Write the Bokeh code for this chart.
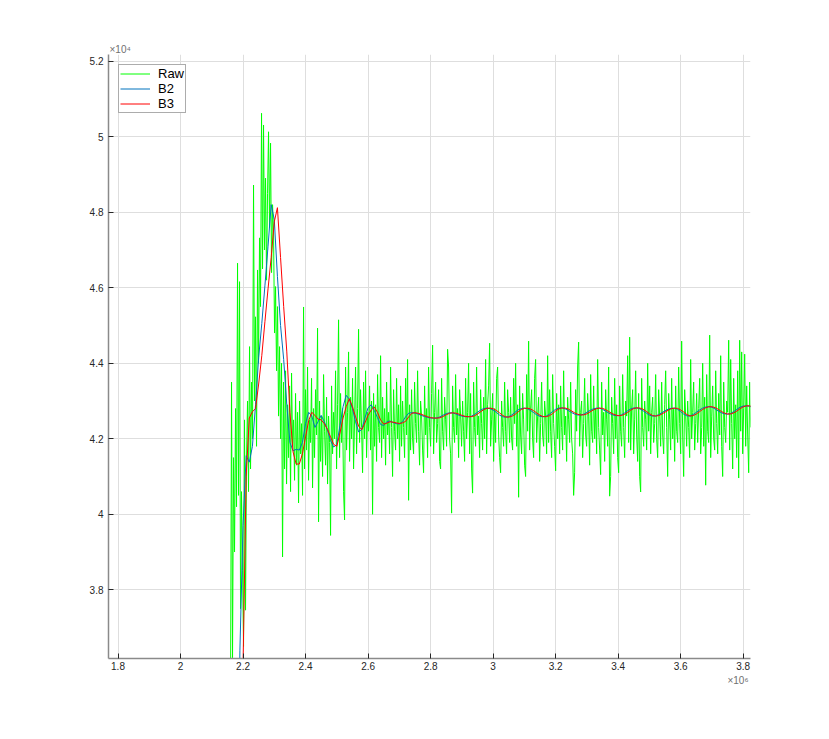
import numpy as np
from bokeh.plotting import figure
from bokeh.models import Range1d, FixedTicker, Legend, LegendItem, Title
from bokeh.embed import file_html
from bokeh.resources import INLINE

# ---------------- data ----------------
raw_start = 2.16e6
raw_step = 3200
raw_vals = [
    35000, 43500, 36200, 41500, 39000, 42800, 40200, 46650, 40500, 46160,
    37500, 40600, 38500, 36500, 42500, 37460, 41500, 43000, 40600, 44440,
    41200, 43500, 42000, 48720, 43000, 45230, 41800, 46470, 44000, 47320,
    45500, 50620, 46500, 50310, 47000, 48900, 46200, 48500, 50130, 47600,
    49830, 46400, 48200, 47450, 44800, 46030, 43800, 45500, 42600, 44440,
    42000, 44000, 38870, 43500, 41200, 43800, 40800, 42900, 41500, 43400,
    40600, 43740, 41800, 42500, 40900, 43200, 41300, 42700, 40300, 43000,
    41600, 42400, 40500, 45490, 41200, 43300, 41700, 43900, 40900, 42500,
    41900, 43600, 40700, 42800, 41500, 43300, 42100, 44930, 39800, 43000,
    41400, 42600, 41000, 43700, 42200, 41300, 43100, 40800, 42600, 41900,
    39440, 43400, 41600, 42700, 42000, 43800, 41200, 42900, 45150, 41500,
    43200, 41900, 42800, 40600, 39850, 43900, 41700, 42700, 44300, 41400,
    43100, 42000, 43600, 41200, 42500, 43900, 41600, 42800, 44900, 41900,
    43300, 42300, 41100, 43500, 42000, 43800, 41500, 42700, 42200, 43400,
    41700, 43000, 40000, 43200, 41800, 42900, 41400, 43700, 42300, 41900,
    44200, 41500, 43100, 42000, 42800, 41300, 43500, 42100, 42700, 41600,
    43900, 42300, 41000, 43300, 42200, 41700, 43600, 42000, 42900, 41400,
    43400,
    41800, 43000, 42300, 41500, 43600, 42100, 44100, 40370, 42900, 41700,
    43300, 42000, 41600, 43500, 42400, 41900, 43800, 42200, 41300, 43000,
    42600, 41700, 41100, 43400, 42100, 42800, 41500, 43900, 42300, 41800,
    43200, 44480, 41600, 42700, 43500, 41900, 42400, 43300, 41400, 41200,
    43600, 42200, 41700, 43100, 42500, 41800, 44370, 43900, 42000, 41600,
    40030, 43400, 42300, 41900, 43700, 42100, 42800, 41500, 43300, 42600,
    41800, 43000, 42200, 41400, 43600, 42000, 42700, 44000, 41600, 43200,
    41200, 40560, 43500, 42300, 41800, 43900, 42100, 42600, 41500, 43300,
    42400, 41700, 43100, 42000, 44100, 41600, 42900, 43400, 44530, 41800,
    42500, 43200, 41400, 42800, 41900, 43600, 43900, 42100, 41500, 41100,
    43000, 42300, 41800, 43500, 42200, 41600, 43300, 42700, 41900, 43100,
    42000, 41700, 43600, 42400, 44000, 41800, 42900, 40450, 43400, 42100,
    41600, 43200, 42500, 41300, 41000, 43700, 42200, 44585, 41700, 42800,
    43300, 42000, 41500, 43600, 44100, 41900, 42600, 43100, 41400, 42400,
    43500, 42100, 41800, 43000, 42600, 41600, 44200, 41900, 43300, 42200,
    41500, 43700, 42400, 41800, 41150, 43200, 42000, 42900, 41600, 43400,
    42300, 41700, 43800, 42100, 42600, 41400, 43100, 42500, 41900, 43500,
    42000, 41600, 40500, 41100, 43300, 42200, 43900, 44560, 41800, 42700,
    43000, 41500, 42400, 43600, 42100, 41800, 43200, 42600, 41300, 43700,
    42200, 41900, 43400, 42000, 42800, 41600, 44100, 42300, 41700, 41050,
    43500, 42100, 42700, 41400, 43300, 42500, 41800, 43900, 40480, 41000,
    43100, 42400, 41600, 43600, 42000, 42900, 41500, 41100, 43400, 42200,
    41800, 43700, 42300, 41500, 43000, 42600, 44200, 41900, 44690, 41700,
    42800, 43300, 41600, 42500, 43800, 42100, 41400, 43200, 41000, 40590,
    43600, 42300, 41800, 43000, 42500, 41700, 44000, 42200, 43400, 41600,
    42700, 43100, 41900, 42400, 43700, 42000, 41500, 43300, 42600, 41800,
    43500, 42100, 41600, 42900, 43800, 42300, 41000, 43200, 42500, 41700,
    43600, 42000, 42800, 41400, 43400, 42200, 41900, 43900, 42400, 41600,
    44585, 42100, 41000, 43300, 42600, 41800, 43000, 42300, 41500, 44100,
    42000, 42700, 43500, 41700, 42400, 43200, 41900, 42800, 43600, 41600,
    42300, 44000, 41800, 43100, 40770, 43700, 42200, 41900, 44745, 41500,
    42600, 43400, 42000, 41700, 43800, 42400, 41600, 43200, 42100, 44200,
    41800, 41000, 43500, 42300, 41900, 43000, 42700, 44610, 41700, 44100,
    42400, 41200, 43600, 42000, 42900, 41500, 43800, 40960, 44610, 42200,
    44300, 41600, 42800, 44240, 41800, 43400, 42100, 41100, 43500, 42300,
]

flt_start = 2.18e6
flt_step = 10000
b2_vals = [
    30000, 36400, 39700, 41550, 41380, 41800, 42900, 44150, 45050, 46050,
    47100, 48200, 47800, 46300, 45000, 44100, 42900, 41900, 41680, 41720,
    41700, 41900, 42400, 42700, 42600, 42300, 42450, 42620, 42450, 42230,
    41950, 41780, 41850, 42350, 42850, 43150, 43050, 42800, 42450, 42180,
    42250, 42550, 42820, 42900, 42750, 42560, 42380, 42350, 42450, 42470,
    42430, 42400, 42390, 42450, 42580, 42680, 42690, 42680, 42655, 42620,
    42590, 42565, 42550, 42547, 42550, 42580, 42625, 42665, 42687, 42685,
    42660, 42625, 42600, 42585, 42582, 42595, 42640, 42700, 42760, 42800,
    42812, 42800, 42760, 42700, 42630, 42585, 42570, 42585, 42630, 42700,
    42765, 42800, 42812, 42795, 42750, 42690, 42630, 42592, 42582, 42600,
    42650, 42720, 42780, 42812, 42818, 42795, 42750, 42700, 42655, 42630,
    42628, 42650, 42700, 42750, 42790, 42810, 42810, 42780, 42730, 42680,
    42640, 42615, 42610, 42630, 42680, 42740, 42790, 42815, 42818, 42790,
    42740, 42680, 42625, 42600, 42605, 42640, 42690, 42740, 42785, 42808,
    42810, 42780, 42720, 42650, 42605, 42602, 42640, 42700, 42760, 42810,
    42840, 42850, 42835, 42790, 42735, 42690, 42660, 42653, 42670, 42720,
    42780, 42835, 42865, 42873, 42860, 42830,
]
b3_vals = [
    30000, 32500, 36000, 41000, 42550, 42714, 42800, 43450, 44200, 45100,
    45970, 46800, 47750, 48120, 46800, 45500, 44300, 42700, 41650, 41330,
    41330, 41600, 42050, 42480, 42700, 42620, 42520, 42500, 42400, 42250,
    42050, 41850, 41800, 42150, 42550, 42850, 43060, 42850, 42580, 42330,
    42240, 42420, 42620, 42760, 42840, 42700, 42500, 42390, 42410, 42450,
    42440, 42420, 42405, 42420, 42460, 42580, 42675, 42690, 42675, 42650,
    42615, 42585, 42560, 42548, 42547, 42555, 42590, 42635, 42672, 42687,
    42680, 42655, 42620, 42595, 42583, 42585, 42605, 42655, 42715, 42770,
    42805, 42812, 42795, 42752, 42690, 42620, 42580, 42572, 42595, 42645,
    42712, 42775, 42805, 42810, 42790, 42740, 42680, 42622, 42588, 42585,
    42610, 42665, 42735, 42790, 42815, 42815, 42790, 42740, 42690, 42650,
    42630, 42632, 42660, 42710, 42760, 42795, 42812, 42805, 42770, 42720,
    42670, 42635, 42612, 42615, 42645, 42695, 42755, 42800, 42818, 42812,
    42780, 42725, 42665, 42615, 42600, 42615, 42655, 42705, 42755, 42795,
    42810, 42805, 42765, 42705, 42640, 42603, 42612, 42655, 42715, 42775,
    42820, 42848, 42848, 42825, 42780, 42725, 42680, 42655, 42656, 42685,
    42735, 42795, 42845, 42870, 42873, 42850,
]

x_ticks = [1.8e6, 2.0e6, 2.2e6, 2.4e6, 2.6e6, 2.8e6, 3.0e6, 3.2e6, 3.4e6, 3.6e6, 3.8e6]
x_tick_labels = ["1.8", "2", "2.2", "2.4", "2.6", "2.8", "3", "3.2", "3.4", "3.6", "3.8"]
y_ticks = [38000, 40000, 42000, 44000, 46000, 48000, 50000, 52000]
y_tick_labels = ["3.8", "4", "4.2", "4.4", "4.6", "4.8", "5", "5.2"]
y_exponent = "\u00d710\u2074"
x_exponent = "\u00d710\u2076"

series_names = ["Raw", "B2", "B3"]
series_colors = ["#00ff00", "#0072bd", "#ff0000"]

# ---------------- figure ----------------
X0, X1 = 1.7696e6, 3.8234e6
Y0, Y1 = 36180, 52177

p = figure(width=821, height=731, output_backend="svg", toolbar_location=None,
           x_range=Range1d(X0, X1), y_range=Range1d(Y0, Y1),
           min_border_left=108, min_border_right=71,
           min_border_top=54, min_border_bottom=73)
p.outline_line_color = None
p.background_fill_color = "white"
p.border_fill_color = "white"

raw_x = raw_start + raw_step * np.arange(len(raw_vals))
flt_x = flt_start + flt_step * np.arange(len(b2_vals))

r_raw = p.line(raw_x, raw_vals, line_color=series_colors[0], line_width=1)
r_b2 = p.line(flt_x, b2_vals, line_color=series_colors[1], line_width=1)
r_b3 = p.line(flt_x, b3_vals, line_color=series_colors[2], line_width=1)

# axes
for ax in (p.xaxis[0], p.yaxis[0]):
    ax.axis_line_color = "#8a8a8a"
    ax.axis_line_width = 1.5
    ax.major_tick_line_color = "#262626"
    ax.major_tick_in = 5
    ax.major_tick_out = 0
    ax.minor_tick_line_color = None
    ax.major_label_text_font = "Liberation Sans"
    ax.major_label_text_font_size = "10px"
    ax.major_label_text_color = "#262626"

p.xaxis[0].ticker = FixedTicker(ticks=x_ticks)
p.xaxis[0].major_label_overrides = {t: l for t, l in zip(x_ticks, x_tick_labels)}
p.xaxis[0].major_label_standoff = 3
p.yaxis[0].ticker = FixedTicker(ticks=y_ticks)
p.yaxis[0].major_label_overrides = {t: l for t, l in zip(y_ticks, y_tick_labels)}
p.yaxis[0].major_label_standoff = 5

p.xgrid[0].ticker = FixedTicker(ticks=x_ticks)
p.ygrid[0].ticker = FixedTicker(ticks=y_ticks)
for g in (p.xgrid[0], p.ygrid[0]):
    g.grid_line_color = "#dedede"
    g.grid_line_width = 1

# exponent labels as titles
p.title.text = y_exponent
p.title.align = "left"
p.title.offset = 1
p.title.standoff = 0
p.title.text_font = "Liberation Sans"
p.title.text_font_size = "10px"
p.title.text_font_style = "normal"
p.title.text_color = "#707070"

xt = Title(text=x_exponent, align="right", offset=2, standoff=0,
           text_font="Liberation Sans", text_font_size="10px",
           text_font_style="normal", text_color="#707070")
p.add_layout(xt, "below")

legend = Legend(items=[LegendItem(label=n, renderers=[r]) for n, r in
                       zip(series_names, [r_raw, r_b2, r_b3])],
                location="top_left", margin=10, padding=1, spacing=0,
                glyph_width=30, glyph_height=15, label_height=15,
                label_standoff=8, label_text_font="Liberation Sans",
                label_text_font_size="13px",
                label_text_color="#000000",
                border_line_color="#5a5a5a", border_line_width=1,
                background_fill_color="white", background_fill_alpha=1)
p.add_layout(legend)

open("out.html", "w").write(file_html(p, INLINE))
